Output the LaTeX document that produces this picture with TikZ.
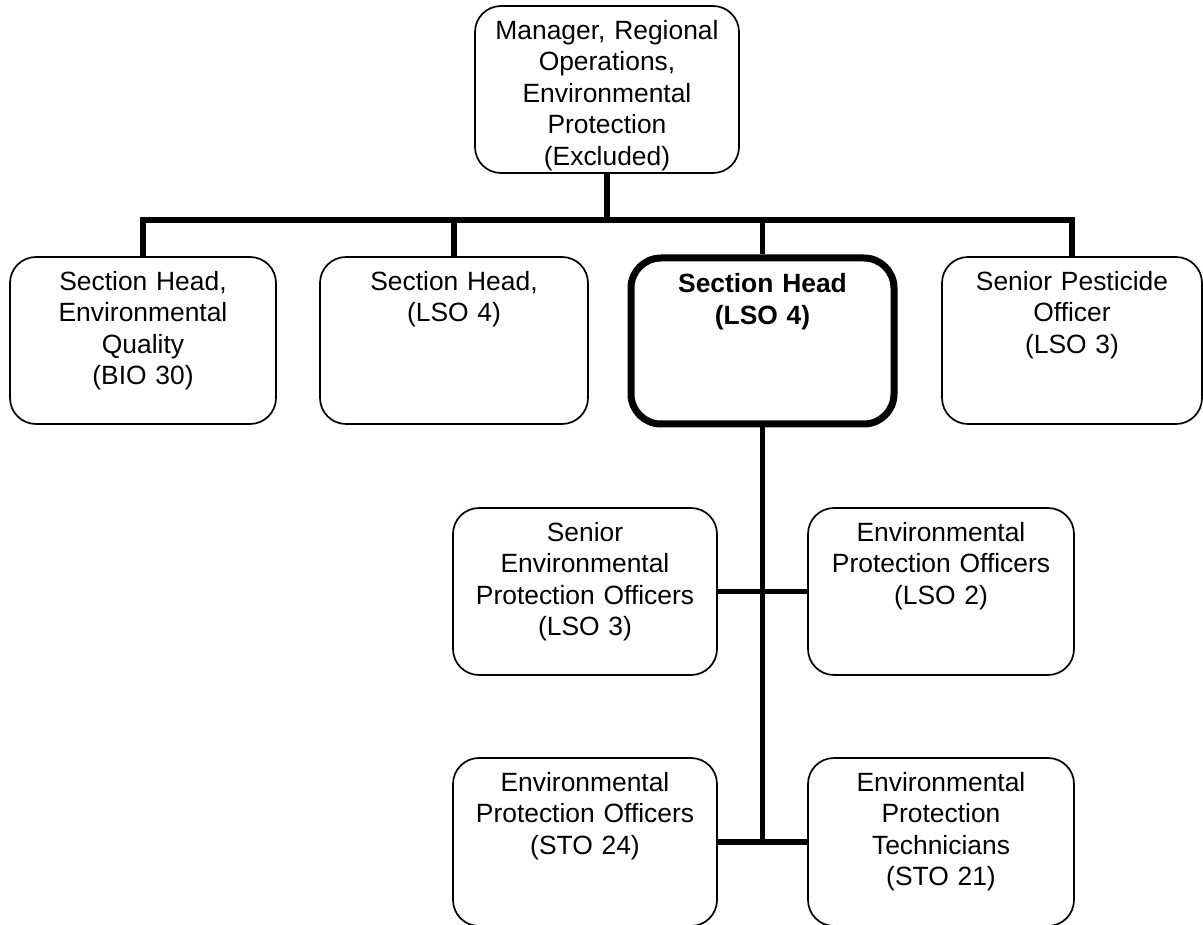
\documentclass[tikz,border=0pt]{standalone}
\usepackage{fontspec}
\setmainfont{Liberation Sans}
\begin{document}
\begin{tikzpicture}[x=1pt,y=-1pt,
  box/.style={draw=black, line width=1.7pt, rounded corners=26pt, minimum width=264pt, minimum height=167pt, inner sep=0pt, fill=white},
  boldbox/.style={box, line width=7pt, rounded corners=30pt},
  txt/.style={anchor=north, inner sep=0pt, text width=255pt, align=center, font=\fontsize{26.4}{31.4}\selectfont},
  conn/.style={line width=5.5pt, line join=miter}]
\useasboundingbox (0,0) rectangle (1203,925);
\coordinate (busy) at (0,220);
% boxes
\node[box] (top) at (607,89.5) {};
\node[box, minimum width=266pt] (b1) at (143,340.5) {};
\node[box, minimum width=268pt] (b2) at (454,340.5) {};
\node[boldbox, minimum width=263pt, minimum height=166pt] (b3) at (762.5,341) {};
\node[box, minimum width=260pt] (b4) at (1072,340.5) {};
\node[box] (r3l) at (585,591.5) {};
\node[box, minimum width=266pt] (r3r) at (941,591.5) {};
\node[box, minimum height=168pt] (r4l) at (585,842) {};
\node[box, minimum width=266pt, minimum height=168pt] (r4r) at (941,842) {};
% connectors
\draw[conn] (top.south) -- (top.south |- busy);
\draw[conn] (b1.north) |- (b4.north |- busy) -- (b4.north);
\draw[conn] (b2.north) -- (b2.north |- busy);
\draw[conn] (b3.north) -- (b3.north |- busy);
\draw[conn] (b3.south) -- (b3.south |- r4l.east);
\draw[conn] (r3l.east) -- (r3r.west);
\draw[conn] (r4l.east) -- (r4r.west);
% texts
\node[txt] (ttop) at ([yshift=-15pt]top.north) {Manager, Regional\\Operations,\\Environmental\\Protection\\(Excluded)};
\node[txt] (tb1) at ([yshift=-15pt]b1.north) {Section Head,\\Environmental\\Quality\\(BIO 30)};
\node[txt] (tb2) at ([yshift=-15pt]b2.north) {Section Head,\\(LSO 4)};
\node[txt, font=\fontsize{26.4}{31.4}\selectfont\bfseries] (tb3) at ([yshift=-19pt]b3.north) {Section Head\\(LSO 4)};
\node[txt] (tb4) at ([yshift=-15pt]b4.north) {Senior Pesticide\\Officer\\(LSO 3)};
\node[txt] (tr3l) at ([yshift=-15pt]r3l.north) {Senior\\Environmental\\Protection Officers\\(LSO 3)};
\node[txt] (tr3r) at ([yshift=-15pt]r3r.north) {Environmental\\Protection Officers\\(LSO 2)};
\node[txt] (tr4l) at ([yshift=-15pt]r4l.north) {Environmental\\Protection Officers\\(STO 24)};
\node[txt] (tr4r) at ([yshift=-15pt]r4r.north) {Environmental\\Protection\\Technicians\\(STO 21)};
\end{tikzpicture}
\end{document}
